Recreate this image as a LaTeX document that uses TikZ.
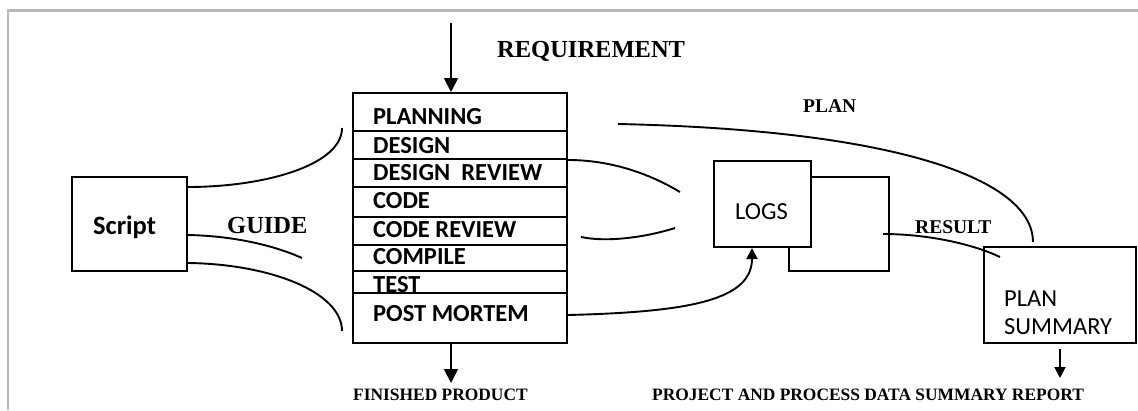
\documentclass[tikz,border=0pt]{standalone}
\usepackage{fontspec}
\setmainfont{Liberation Serif}
\newfontfamily\calfont{Carlito}
\usetikzlibrary{arrows.meta}

\tikzset{
  box/.style={draw, line width=2pt, inner sep=0pt},
  wbox/.style={box, fill=white},
  sep/.style={line width=1.8pt},
  link/.style={line width=1.9pt},
  arr/.style={line width=1.9pt, -{Triangle[length=14pt,width=14pt]}},
  sarr/.style={line width=1.9pt, -{Triangle[length=11pt,width=11pt]}},
  rowtxt/.style={anchor=base west, inner sep=0pt, font=\calfont\bfseries\fontsize{24.5}{28}\selectfont},
  scripttxt/.style={anchor=base west, inner sep=0pt, font=\calfont\bfseries\fontsize{26.5}{30}\selectfont},
  plaintxt/.style={anchor=base west, inner sep=0pt, font=\calfont\fontsize{24.5}{28}\selectfont},
  biglbl/.style={anchor=base west, inner sep=0pt, font=\bfseries\fontsize{24.5}{28}\selectfont},
  midlbl/.style={anchor=base west, inner sep=0pt, font=\bfseries\fontsize{19.5}{22}\selectfont},
  smalllbl/.style={anchor=base west, inner sep=0pt, font=\bfseries\fontsize{17.4}{20}\selectfont},
}

\begin{document}
\begin{tikzpicture}[x=1pt,y=-1pt]
\useasboundingbox (0,0) rectangle (1138,410);

% frame
\draw[line width=2.5pt, gray!55] (7.8,410) -- (7.8,10.7) -- (1138,10.7);

% script box
\node[box, minimum width=115pt, minimum height=94pt] (script) at (129.5,224) {};
\node[scripttxt] (scriptlbl) at (93,234) {Script};

% process stack
\node[box, minimum width=214pt, minimum height=250pt] (stack) at (460,218) {};
\foreach \yy in {131,159,187,217,245,271,293}
  \draw[sep] (stack.west |- 0,\yy) -- (stack.east |- 0,\yy);
\node[rowtxt] (planning) at (373,124) {PLANNING};
\node[rowtxt] (design)   at (373,153) {DESIGN};
\node[rowtxt] (dreview)  at (373,180) {DESIGN\ \ REVIEW};
\node[rowtxt] (code)     at (373,208) {CODE};
\node[rowtxt] (creview)  at (373,237) {CODE REVIEW};
\node[rowtxt] (compile)  at (373,264) {COMPILE};
\node[rowtxt] (test)     at (373,292) {TEST};
\node[rowtxt] (pm)       at (373,321) {POST MORTEM};

% logs (two stacked sheets)
\node[box, minimum width=100pt, minimum height=94pt] (logsback) at (839,224) {};
\node[wbox, minimum width=97pt, minimum height=86pt] (logs) at (762.5,204) {};
\node[plaintxt] (logstxt) at (735,219) {LOGS};

% plan summary
\node[box, minimum width=152pt, minimum height=96pt] (psum) at (1060,295) {};
\node[plaintxt] (psumtxt1) at (1004,306) {PLAN};
\node[plaintxt] (psumtxt2) at (1004,334) {SUMMARY};

% labels
\node[biglbl] (req) at (497,57) {REQUIREMENT};
\node[biglbl] (guide) at (227,233) {GUIDE};
\node[midlbl] (plan) at (803,112) {PLAN};
\node[midlbl] (result) at (915,233) {RESULT};
\node[smalllbl] (fin) at (353,400) {FINISHED PRODUCT};
\node[smalllbl] (report) at (652,400) {PROJECT AND PROCESS DATA SUMMARY REPORT};

% free ends
\coordinate (reqin) at (451,23);
\coordinate (finout) at (451,383);
\coordinate (repout) at (1060,378);
\coordinate (g1) at (342,128);
\coordinate (g2) at (302,258);
\coordinate (g3) at (342,331);
\coordinate (r1) at (680,192);
\coordinate (r2) at (675,228);
\coordinate (p0) at (618,124);
\coordinate (p1) at (1033,242);
\coordinate (res0) at (883,234);
\coordinate (res1) at (1000,257);

% arrows in and out
\draw[arr] (reqin) -- (stack.north -| reqin);
\draw[arr] (stack.south -| finout) -- (finout);
\draw[sarr] ([yshift=-5pt]psum.south) -- (repout);

% guide curves
\draw[link] ([yshift=-11pt]script.north east) .. controls (265,187) and (342,165) .. (g1);
\draw[link] ([yshift=-11pt]script.east) .. controls (240,236) and (280,248) .. (g2);
\draw[link] ([yshift=9pt]script.south east) .. controls (270,264) and (342,292) .. (g3);

% review curves
\draw[link] ([yshift=-68pt]stack.north east) .. controls (620,160) and (660,180) .. (r1);
\draw[link] ([xshift=13pt,yshift=-145pt]stack.north east) .. controls (610,243) and (650,236) .. (r2);

% plan curve
\draw[link] (p0) .. controls (900,130) and (1033,180) .. (p1);

% post mortem to logs
\draw[sarr] ([yshift=-223pt]stack.north east) .. controls (690,312) and (752,300) .. (logs.south -| 752,0);

% result curve
\draw[link] (res0) .. controls (930,234) and (975,245) .. (res1);
\end{tikzpicture}
\end{document}
